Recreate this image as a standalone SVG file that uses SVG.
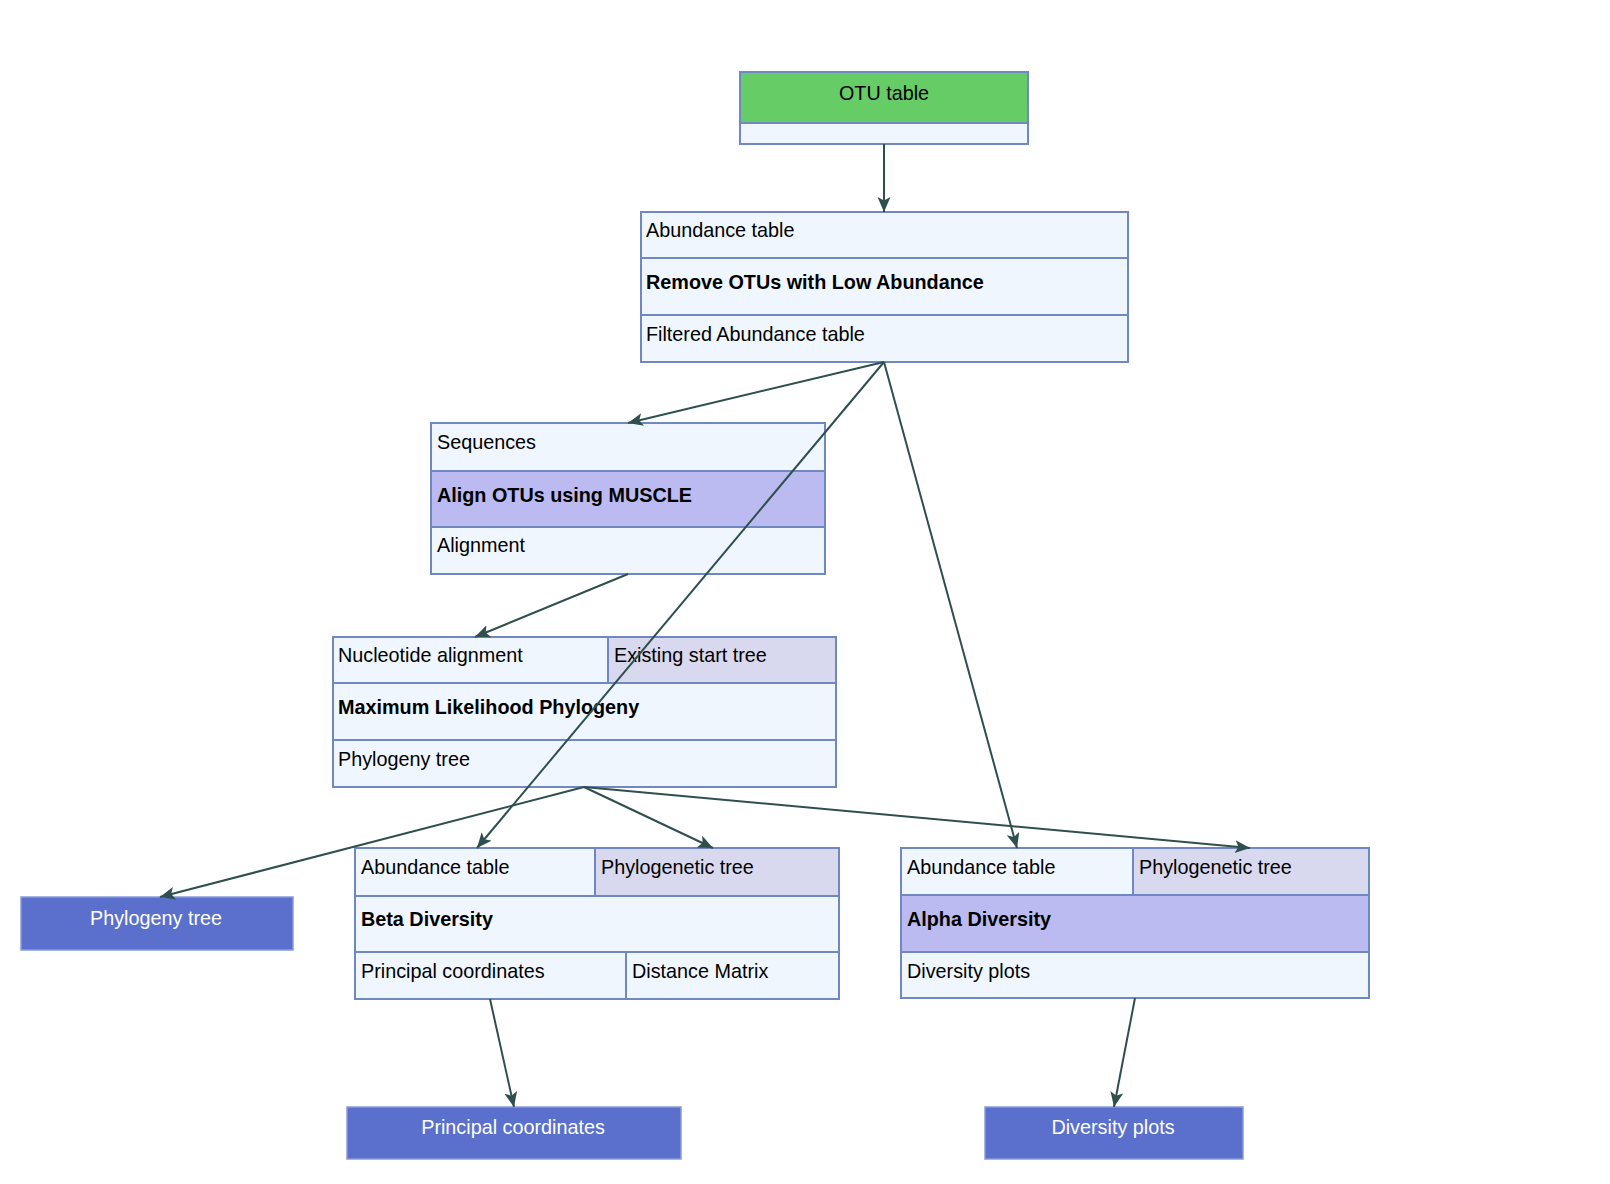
<svg xmlns="http://www.w3.org/2000/svg" width="1610" height="1184" viewBox="0 0 1610 1184">
<style>
  text { font-family: "Liberation Sans", Arial, sans-serif; font-size: 19.8px; fill: #000; }
  .b { font-weight: bold; }
  .w { fill: #ffffff; }
  .c { text-anchor: middle; }
  .cell { fill: #eff6fe; stroke: #6f88c2; stroke-width: 2; }
  .hl { fill: #bbbbf2; stroke: #6f88c2; stroke-width: 2; }
  .alt { fill: #d8d8ee; stroke: #6f88c2; stroke-width: 2; }
  .green { fill: #66cc66; stroke: #6f88c2; stroke-width: 2; }
  .out { fill: #5a70cc; stroke: #8a9bd6; stroke-width: 1.5; }
  .edge { fill: none; stroke: #2f4f4f; stroke-width: 2; marker-end: url(#arr); }
</style>
<defs>
  <marker id="arr" markerUnits="userSpaceOnUse" markerWidth="18" markerHeight="14" refX="15" refY="6.5" orient="auto">
    <path d="M0,0 L15,6.5 L0,13 L3.5,6.5 z" fill="#2f4f4f"/>
  </marker>
</defs>
<rect width="1610" height="1184" fill="#ffffff"/>

<g id="otu_table">
  <rect class="green" x="740" y="72" width="288" height="51"/>
  <rect class="cell" x="740" y="123" width="288" height="21"/>
  <text class="c" x="884" y="100">OTU table</text>
</g>

<g id="filter">
  <rect class="cell" x="641" y="212" width="487" height="46"/>
  <rect class="cell" x="641" y="258" width="487" height="57"/>
  <rect class="cell" x="641" y="315" width="487" height="47"/>
  <text x="646" y="237">Abundance table</text>
  <text class="b" x="646" y="289">Remove OTUs with Low Abundance</text>
  <text x="646" y="341">Filtered Abundance table</text>
</g>

<g id="align">
  <rect class="cell" x="431" y="423" width="394" height="48"/>
  <rect class="hl" x="431" y="471" width="394" height="56"/>
  <rect class="cell" x="431" y="527" width="394" height="47"/>
  <text x="437" y="449">Sequences</text>
  <text class="b" x="437" y="502">Align OTUs using MUSCLE</text>
  <text x="437" y="552">Alignment</text>
</g>

<g id="ml_phylogeny">
  <rect class="cell" x="333" y="637" width="275" height="46"/>
  <rect class="alt" x="608" y="637" width="228" height="46"/>
  <rect class="cell" x="333" y="683" width="503" height="57"/>
  <rect class="cell" x="333" y="740" width="503" height="47"/>
  <text x="338" y="662">Nucleotide alignment</text>
  <text x="614" y="662">Existing start tree</text>
  <text class="b" x="338" y="714">Maximum Likelihood Phylogeny</text>
  <text x="338" y="766">Phylogeny tree</text>
</g>

<g id="beta">
  <rect class="cell" x="355" y="848" width="240" height="48"/>
  <rect class="alt" x="595" y="848" width="244" height="48"/>
  <rect class="cell" x="355" y="896" width="484" height="56"/>
  <rect class="cell" x="355" y="952" width="271" height="47"/>
  <rect class="cell" x="626" y="952" width="213" height="47"/>
  <text x="361" y="874">Abundance table</text>
  <text x="601" y="874">Phylogenetic tree</text>
  <text class="b" x="361" y="926">Beta Diversity</text>
  <text x="361" y="978">Principal coordinates</text>
  <text x="632" y="978">Distance Matrix</text>
</g>

<g id="alpha">
  <rect class="cell" x="901" y="848" width="232" height="47"/>
  <rect class="alt" x="1133" y="848" width="236" height="47"/>
  <rect class="hl" x="901" y="895" width="468" height="57"/>
  <rect class="cell" x="901" y="952" width="468" height="46"/>
  <text x="907" y="874">Abundance table</text>
  <text x="1139" y="874">Phylogenetic tree</text>
  <text class="b" x="907" y="926">Alpha Diversity</text>
  <text x="907" y="978">Diversity plots</text>
</g>

<g id="out_phylogeny_tree">
  <rect class="out" x="21" y="897" width="272" height="53"/>
  <text class="c w" x="156" y="925">Phylogeny tree</text>
</g>

<g id="out_principal_coordinates">
  <rect class="out" x="347" y="1107" width="334" height="52"/>
  <text class="c w" x="513" y="1134">Principal coordinates</text>
</g>

<g id="out_diversity_plots">
  <rect class="out" x="985" y="1107" width="258" height="52"/>
  <text class="c w" x="1113" y="1134">Diversity plots</text>
</g>

<g id="connectors">
  <path class="edge" d="M884,144 L884,212"/>
  <path class="edge" d="M884,362 L628,423"/>
  <path class="edge" d="M884,362 L477,848"/>
  <path class="edge" d="M884,362 L1017,848"/>
  <path class="edge" d="M628,574 L475,637"/>
  <path class="edge" d="M584,787 L160,897"/>
  <path class="edge" d="M584,787 L713,848"/>
  <path class="edge" d="M584,787 L1250,848"/>
  <path class="edge" d="M490,999 L514,1107"/>
  <path class="edge" d="M1135,998 L1114,1107"/>
</g>
</svg>
